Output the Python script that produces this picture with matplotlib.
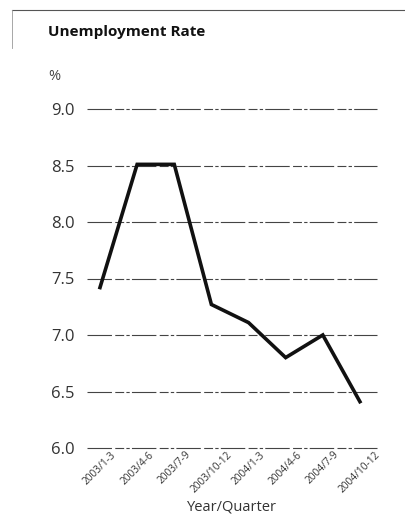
import matplotlib
matplotlib.use("Agg")
import matplotlib.pyplot as plt
from matplotlib.lines import Line2D

categories = ["2003/1-3", "2003/4-6", "2003/7-9", "2003/10-12",
              "2004/1-3", "2004/4-6", "2004/7-9", "2004/10-12"]
rates = [7.42, 8.51, 8.51, 7.27, 7.11, 6.80, 7.00, 6.41]
yticks = [6.0, 6.5, 7.0, 7.5, 8.0, 8.5, 9.0]

plt.rcParams['font.family'] = ['Open Sans', 'DejaVu Sans']

W, H = 406, 521
fig = plt.figure(figsize=(W / 100, H / 100), dpi=100)
ax = fig.add_axes([87 / W, 1 - 448 / H, 290 / W, 339 / H])

x = list(range(len(categories)))
ax.plot(x, rates, color="#111111", lw=2.6, solid_joinstyle="miter", clip_on=False, zorder=3)

ax.set_ylim(6.0, 9.0)
ax.set_xlim(-0.35, 7.46)
ax.set_yticks(yticks)
ax.set_yticklabels([f"{v:.1f}" for v in yticks], fontsize=12, color="#333333")
ax.set_xticks(x)
ax.set_xticklabels(categories, rotation=45, ha="center", fontsize=7.3, color="#333333")
ax.tick_params(axis="both", length=0)
ax.tick_params(axis="y", pad=9)
ax.tick_params(axis="x", pad=1)
for v in yticks:
    ax.axhline(v, color="#444444", lw=0.8, ls=(0, (22, 3, 8, 2, 3, 2)), zorder=1, clip_on=False)
for s in ax.spines.values():
    s.set_visible(False)
ax.set_xlabel("Year/Quarter", fontsize=10.5, color="#333333", labelpad=3)

fig.text(48 / W, 1 - 32 / H, "Unemployment Rate", fontsize=11, fontweight="bold",
         ha="left", va="center", color="#111111")
fig.text(48 / W, 1 - 77 / H, "%", fontsize=10.5, ha="left", va="center", color="#444444")

fig.add_artist(Line2D([12 / W, 1.0], [1 - 10 / H, 1 - 10 / H], color="#555555", lw=0.8,
                      transform=fig.transFigure))
fig.add_artist(Line2D([12 / W, 12 / W], [1 - 10 / H, 1 - 48 / H], color="#999999", lw=0.6,
                      transform=fig.transFigure))

fig.savefig("out.png", dpi=100)
